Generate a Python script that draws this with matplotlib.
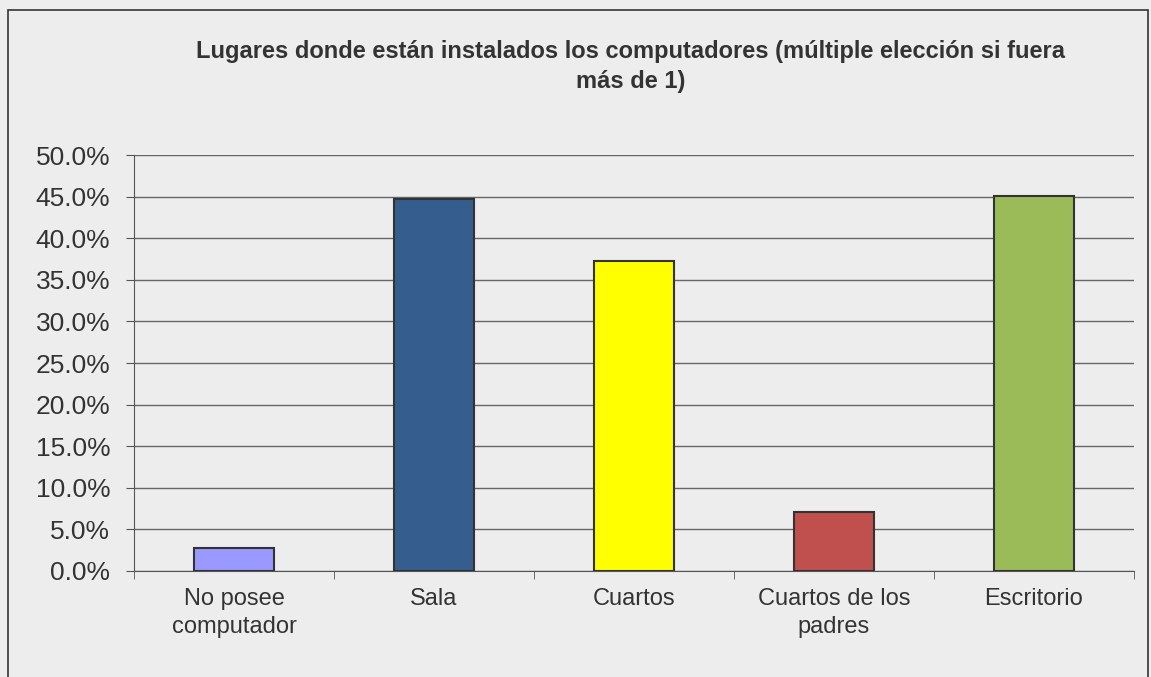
import numpy as np
import matplotlib
matplotlib.use('Agg')
import matplotlib.pyplot as plt
from matplotlib.patches import Rectangle
from matplotlib.ticker import FuncFormatter

# Datos
categorias = ['No posee\ncomputador', 'Sala', 'Cuartos', 'Cuartos de los\npadres', 'Escritorio']
porcentajes = [2.8, 44.7, 37.3, 7.1, 45.1]
colores = ['#9999ff', '#355e8e', '#ffff00', '#c0504d', '#9bbb59']
titulo = 'Lugares donde están instalados los computadores (múltiple elección si fuera\nmás de 1)'

plt.rcParams['font.family'] = ['Liberation Sans', 'DejaVu Sans']

fondo = '#ededed'
fig = plt.figure(figsize=(11.51, 6.77), dpi=100, facecolor=fondo)
ax = fig.add_axes([0.1164, 0.1566, 0.8688, 0.6144])
ax.set_facecolor(fondo)

# marco exterior
fig.patches.append(Rectangle((0.007, -0.05), 0.99, 1.035, transform=fig.transFigure,
                             fill=False, edgecolor='#333333', linewidth=1.2))

x = np.arange(len(categorias))
ax.bar(x, porcentajes, width=0.4, color=colores, edgecolor='#333333', linewidth=1.5, zorder=3)

ax.set_xlim(-0.5, len(categorias) - 0.5)
ax.set_ylim(0, 50)
ax.set_yticks(np.arange(0, 50.1, 5))
ax.yaxis.set_major_formatter(FuncFormatter(lambda v, p: f'{v:.1f}%'))
ax.grid(axis='y', color='#666666', linewidth=1.0, zorder=0)

ax.set_xticks(x)
ax.set_xticklabels(categorias, fontsize=17, color='#333333', linespacing=1.4)
ax.set_xticks(np.arange(-0.5, len(categorias), 1), minor=True)
ax.tick_params(axis='x', which='major', length=0, pad=12)
ax.tick_params(axis='x', which='minor', length=6, color='#555555', direction='out')
ax.tick_params(axis='y', length=6, color='#555555', labelsize=19, labelcolor='#333333', pad=11)

for lado in ['top', 'right']:
    ax.spines[lado].set_visible(False)
ax.spines['left'].set_color('#555555')
ax.spines['bottom'].set_color('#555555')

fig.text(0.548, 0.902, titulo, ha='center', va='center', fontsize=17, fontweight='bold',
         color='#333333', linespacing=1.4)

fig.savefig('out.png', dpi=100, facecolor=fondo)
